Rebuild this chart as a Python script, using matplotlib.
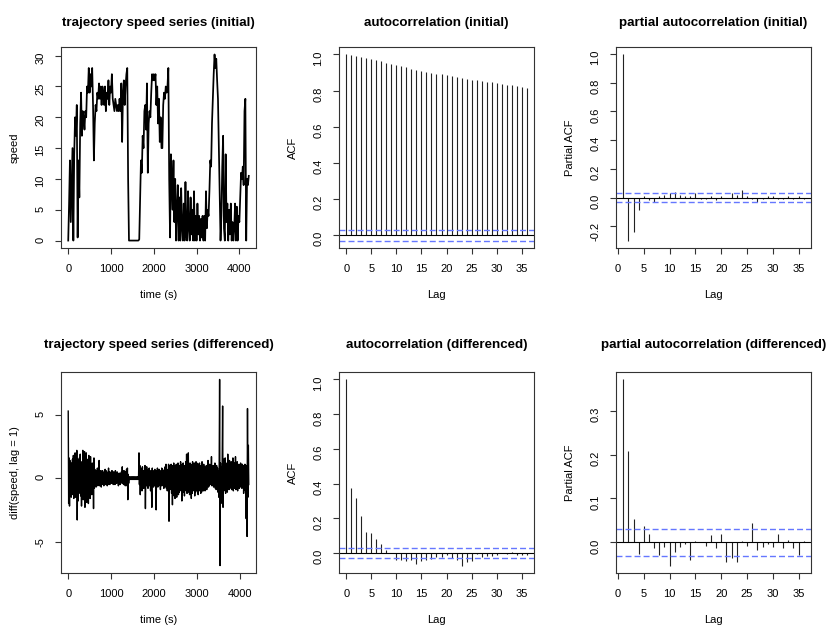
import numpy as np
import matplotlib
matplotlib.use("Agg")
import matplotlib.pyplot as plt

plt.rcParams['font.family'] = ['Liberation Sans', 'DejaVu Sans']
plt.rcParams['axes.unicode_minus'] = False

# ---------------- data ----------------
speed_step = 20  # seconds between speed samples
speed = [
    0, 6, 13, 3, 9, 15, 0, 14, 20, 17,
    22, 0.5, 13, 7, 19, 24, 17, 21, 20, 18,
    21, 20, 25, 24, 28, 24, 27, 25, 28, 22,
    13, 19, 22, 21, 24, 23, 25.5, 23, 25, 22,
    25, 24, 22, 25, 21, 24, 23, 26, 22, 25,
    24, 27, 23, 22, 21, 23, 22, 21, 22, 21,
    23, 21, 25.5, 16, 24, 26, 22, 25, 27, 28,
    10, 0, 0, 0, 0, 0, 0, 0, 0, 0,
    0, 0, 0, 0.2, 7, 13, 11, 17, 15, 21,
    22, 18, 25.5, 11, 19, 21, 20, 24, 27, 26,
    27, 26, 27, 22, 25, 19, 23, 16, 20, 15,
    15, 22, 24, 23, 25, 24, 25, 28, 10, 0.5,
    14, 9, 5, 13, 3, 10, 0, 5, 9, 0,
    7, 0, 8.5, 2, 0, 6, 0, 9.5, 1, 0,
    8, 2, 0, 7, 1, 5, 0, 8, 0, 4,
    0, 6, 1, 4, 0, 3.5, 0.5, 4, 0, 4,
    0, 8, 2, 5, 4, 8, 13, 12, 19, 23,
    27, 30.2, 28, 29.5, 26, 23, 15, 6, 0, 4,
    12, 17, 2, 0, 14, 3, 6, 0, 5, 1,
    6, 0, 3, 0, 2, 6, 0, 5.5, 0, 4,
    3, 7, 11, 10, 12, 9, 21, 23, 0, 10,
    9, 10.5,
]

diff_step = 10  # seconds between differenced samples
diff_speed = [
    5.3, -2.0, 1.6, -2.2, 1.4, -1.0, 0.8, -1.5, 1.2, -0.9, 1.5, -1.3, 1.8, -1.6, 0.9, -1.2, 2.0, -1.5, 1.1, -0.8,
    2.2, -3.3, 1.5, -1.8, 0.9, -1.2, 1.6, -0.7, 1.9, -1.4, 0.7, -2.2, 1.3, -0.9, 2.2, -1.7, 1.0, -1.1, 2.1, -2.3,
    1.4, -1.0, 2.0, -1.9, 0.8, -1.2, 1.5, -2.0, 1.8, -0.9, 1.1, -1.6, 1.7, -0.8, 0.9, -1.3, 1.2, -0.7, 1.0, -2.4,
    1.6, -0.8, 0.7, -0.6, 0.5, -0.7, 0.6, -0.5, 0.8, -0.6, 0.4, -0.5, 1.4, -0.6, 0.5, -0.4, 0.6, -0.7, 0.5, -0.4,
    0.6, -0.5, 0.4, -0.6, 0.5, -0.4, 0.7, -0.5, 0.6, -0.3, 0.5, -0.6, 0.4, -0.5, 0.8, -0.4, 0.5, -0.5, 0.3, -0.4,
    0.5, -0.4, 0.6, -0.3, 0.4, -0.5, 0.5, -0.4, 0.3, -0.5, 0.6, -0.3, 0.4, -0.4, 0.5, -0.3, 0.4, -0.6, 0.3, -0.4,
    0.4, -0.5, 0.3, -0.4, 0.5, -0.3, 0.9, -0.4, 0.4, -0.5, 0.6, -0.3, 0.4, -0.6, 0.5, -0.4, 0.7, -0.6, 0.8, -1.7,
    0.3, -0.4, 0.1, -0.1, 0.1, -0.1, 0.1, -0.1, 0.1, -0.1, 0.1, -0.1, 0.1, -0.1, 0.1, -0.1, 0.1, -0.1, 0.1, -0.1,
    0.1, -0.1, 0.1, -0.1, 0.1, 2.0, -0.5, 1.0, -1.3, 0.8, -0.6, 0.7, -1.0, 0.9, -0.5, 0.6, -0.8, 0.5, -0.7, 1.0,
    -2.4, 0.7, -0.6, 0.9, -0.5, 0.6, -0.8, 0.7, -0.4, 0.8, -0.6, 0.5, -1.0, 0.6, -0.5, -2.3, 0.8, -0.6, 0.5, -0.7,
    0.6, -0.5, 0.7, -0.6, 0.5, -2.5, 0.6, -0.5, 0.8, -0.7, 0.5, -0.6, 0.7, -0.5, 0.6, -0.9, 0.5, -0.6, 0.8, -0.5,
    0.7, -0.6, 0.5, -0.8, 0.6, -0.7, 0.9, -0.5, 1.1, -0.8, 0.7, -1.0, 0.6, -0.7, 1.1, -3.4, 0.8, -0.9, 1.0, -0.7,
    1.1, -1.2, 0.8, -2.1, 1.0, -0.9, 1.2, -1.4, 0.7, -1.6, 1.0, -0.8, 1.1, -1.5, 0.9, -1.0, 1.2, -1.3, 0.8, -1.1,
    1.0, -0.9, 1.3, -1.0, 0.8, -1.8, 1.1, -0.9, 1.2, -1.1, 0.9, -1.4, 1.0, -0.8, 1.3, -1.0, 1.9, -1.2, 1.0, -0.9,
    2.0, -1.1, 0.9, -1.3, 1.2, -1.0, 1.1, -1.6, 0.9, -1.2, 1.3, -1.0, 1.1, -0.9, 1.2, -1.4, 1.0, -1.1, 1.3, -0.8,
    1.2, -1.0, 0.9, -1.3, 1.1, -0.9, 1.2, -1.0, 0.8, -1.2, 1.0, -1.1, 1.3, -0.9, 1.0, -1.0, 1.1, -0.8, 0.9, -1.0,
    0.8, -0.6, 1.0, -0.9, 0.7, -0.5, 1.4, -0.7, 0.9, -0.6, 1.1, -0.5, 0.8, -0.4, 1.7, -0.6, 0.9, -0.5, 1.0, -0.7,
    0.9, -0.6, 1.2, -0.8, 0.7, -0.9, 1.0, -0.7, 0.8, -1.1, 0.6, -1.5, 1.0, 7.8, -6.9, 1.2, -2.0, 0.9, -1.0, 1.3,
    5.7, -2.3, 1.5, -1.0, 1.3, -0.8, 1.6, -1.2, 0.9, -0.7, 1.2, -1.1, 1.9, -0.6, 1.0, -0.9, 1.4, -0.8, 1.1, -0.7,
    1.3, -0.9, 1.0, -0.7, 1.6, -1.0, 0.9, -0.8, 1.2, -0.6, 1.7, -0.9, 1.0, -0.7, 1.3, -1.0, 0.8, -0.6, 1.1, -0.8,
    1.0, -0.7, 1.2, -0.5, 0.9, -0.8, 1.1, -0.6, 1.0, -1.2, 0.8, -0.7, 1.1, -1.0, 0.9, -3.2, 1.0, -4.6, 5.5, -1.5,
    2.6, -0.5,
]

n_obs = 4220  # series length used for the confidence bounds

acf_initial = [1.0, 0.997, 0.993, 0.988, 0.983, 0.976, 0.969, 0.963, 0.955, 0.948,
               0.941, 0.934, 0.928, 0.921, 0.915, 0.910, 0.905, 0.900, 0.894, 0.889,
               0.884, 0.878, 0.873, 0.869, 0.865, 0.861, 0.857, 0.852, 0.848, 0.845,
               0.841, 0.837, 0.833, 0.829, 0.826, 0.822, 0.814]

pacf_initial = [0.997, -0.30, -0.243, -0.084, 0.01, -0.02, -0.03, 0.01, 0.02, 0.03,
                0.04, 0.02, 0.01, 0.01, 0.03, -0.01, -0.01, 0.01, -0.02, 0.01,
                0.0, 0.03, 0.02, 0.05, 0.01, -0.01, -0.03, -0.01, 0.01, 0.01,
                -0.01, -0.01, 0.01, -0.01, 0.01, -0.01]

acf_diff = [1.0, 0.372, 0.32, 0.213, 0.122, 0.118, 0.083, 0.05, 0.018, 0.003,
            -0.04, -0.04, -0.045, -0.04, -0.065, -0.045, -0.04, -0.035, -0.025, -0.02,
            -0.01, -0.03, -0.04, -0.072, -0.05, -0.045, -0.005, -0.02, -0.015, -0.015,
            -0.01, 0.0, -0.005, 0.008, -0.01, -0.01, -0.01]

pacf_diff = [0.371, 0.207, 0.053, -0.027, 0.038, 0.018, -0.013, -0.028, -0.011, -0.053,
             -0.022, -0.01, -0.003, -0.04, 0.003, 0.0, -0.008, 0.016, -0.013, 0.02,
             -0.044, -0.035, -0.045, 0.002, -0.008, 0.045, -0.018, -0.01, -0.005, -0.01,
             0.018, -0.013, 0.006, -0.013, -0.03, 0.004]

# ---------------- helpers ----------------
def r_lim(lo, hi):
    d = (hi - lo) * 0.04
    return lo - d, hi + d

W, H = 828, 628
fig = plt.figure(figsize=(W / 100, H / 100), dpi=100)
lefts = [61, 339, 616]
tops = [47, 372]
bw, bh = 195, 201
BLUE = '#6577ff'


def make_ax(r, c):
    return fig.add_axes([lefts[c] / W, 1 - (tops[r] + bh) / H, bw / W, bh / H])


def style(ax, title, xlabel, ylabel, tpad):
    ax.set_title(title, fontsize=9.6, fontweight='bold', pad=tpad)
    ax.set_xlabel(xlabel, fontsize=8)
    ax.set_ylabel(ylabel, fontsize=8)
    ax.xaxis.set_label_coords(0.5, -47 / bh)
    ax.xaxis.label.set_va('center')
    ax.yaxis.set_label_coords(-46 / bw, 0.5)
    ax.yaxis.label.set_va('center')
    ax.tick_params(direction='out', length=4.3, width=0.8, labelsize=8, pad=7,
                   color='#333333')
    ax.tick_params(axis='y', labelrotation=90)
    for s in ax.spines.values():
        s.set_linewidth(0.8)
        s.set_color('#333333')


def ts_panel(ax, values, step, title, ylabel, yticks, tpad, lw):
    v = np.asarray(values, dtype=float)
    t = np.arange(len(v)) * step
    ax.plot(t, v, color='black', lw=lw)
    ax.set_xlim(*r_lim(t[0], t[-1]))
    ax.set_ylim(*r_lim(v.min(), v.max()))
    ax.set_xticks([0, 1000, 2000, 3000, 4000])
    ax.set_yticks(yticks)
    style(ax, title, 'time (s)', ylabel, tpad)


def corr_panel(ax, values, first_lag, title, ylabel, yticks, yfmt, tpad):
    v = np.asarray(values, dtype=float)
    lags = np.arange(len(v)) + first_lag
    ci = 1.96 / np.sqrt(n_obs)
    ax.vlines(lags, 0, v, color='#222222', lw=0.8)
    ax.axhline(0, color='black', lw=0.8)
    for c in (ci, -ci):
        ax.axhline(c, color=BLUE, lw=1.0, ls=(0, (4.3, 2.2)))
    ax.set_xlim(*r_lim(lags[0], lags[-1]))
    ax.set_ylim(*r_lim(min(v.min(), -ci), max(v.max(), ci)))
    ax.set_xticks(np.arange(0, 36, 5))
    ax.set_yticks(yticks)
    ax.set_yticklabels([yfmt.format(y) for y in yticks])
    style(ax, title, 'Lag', ylabel, tpad)


TP_TOP, TP_BOT = 15, 17.5

ts_panel(make_ax(0, 0), speed, speed_step, 'trajectory speed series (initial)',
         'speed', [0, 5, 10, 15, 20, 25, 30], TP_TOP, 1.25)
corr_panel(make_ax(0, 1), acf_initial, 0, 'autocorrelation (initial)', 'ACF',
           [0.0, 0.2, 0.4, 0.6, 0.8, 1.0], '{:.1f}', TP_TOP)
corr_panel(make_ax(0, 2), pacf_initial, 1, 'partial autocorrelation (initial)',
           'Partial ACF', [-0.2, 0.0, 0.2, 0.4, 0.6, 0.8, 1.0], '{:.1f}', TP_TOP)

ts_panel(make_ax(1, 0), diff_speed, diff_step, 'trajectory speed series (differenced)',
         'diff(speed, lag = 1)', [-5, 0, 5], TP_BOT, 1.0)
corr_panel(make_ax(1, 1), acf_diff, 0, 'autocorrelation (differenced)', 'ACF',
           [0.0, 0.2, 0.4, 0.6, 0.8, 1.0], '{:.1f}', TP_BOT)
corr_panel(make_ax(1, 2), pacf_diff, 1, 'partial autocorrelation (differenced)',
           'Partial ACF', [0.0, 0.1, 0.2, 0.3], '{:.1f}', TP_BOT)

fig.savefig('out.png', dpi=100, facecolor='white')
